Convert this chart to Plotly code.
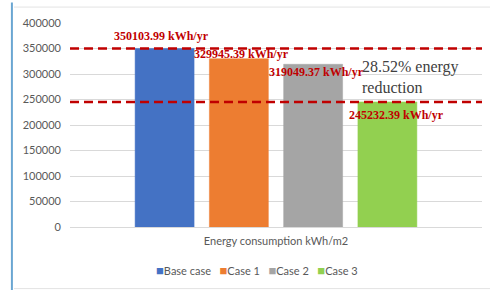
import plotly.graph_objects as go

categories = ["Energy consumption kWh/m2"]
series_names = ["Base case", "Case 1", "Case 2", "Case 3"]
series_values = [350103.99, 329945.39, 319049.37, 245232.39]
series_colors = ["#4472c4", "#ed7d31", "#a5a5a5", "#92d050"]
value_labels = ["350103.99 kWh/yr", "329945.39 kWh/yr", "319049.37 kWh/yr", "245232.39 kWh/yr"]
label_x = [0.223, 0.417, 0.598, 0.792]
label_shift = [12, 5, -8, -13]
y_ticks = [0, 50000, 100000, 150000, 200000, 250000, 300000, 350000, 400000]
reduction_text = "28.52% energy<br>reduction"

fig = go.Figure()
for name, val, col in zip(series_names, series_values, series_colors):
    fig.add_trace(go.Bar(name=name, x=categories, y=[val], marker_color=col,
                         marker_line_color=col, marker_line_width=0.5, showlegend=False))

# reference dashed lines at base case and best case values
for v in (series_values[0], series_values[-1]):
    fig.add_shape(type="line", xref="paper", x0=0, x1=1, yref="y", y0=v, y1=v,
                  line=dict(color="#c00000", width=2.5, dash="9px,5px"), layer="above")

for txt, xp, v, sh in zip(value_labels, label_x, series_values, label_shift):
    fig.add_annotation(text="<b>" + txt + "</b>", xref="paper", x=xp, yref="y", y=v, yshift=sh,
                       showarrow=False, xanchor="center", yanchor="middle",
                       font=dict(family="Liberation Serif", size=12, color="#c00000"))

fig.add_annotation(text=reduction_text, xref="paper", x=0.703, yref="paper", y=0.733,
                   showarrow=False, xanchor="left", yanchor="middle", align="left",
                   font=dict(family="Liberation Serif", size=16, color="#404040"))

# legend (Excel style small squares)
legend_html = "&nbsp;&nbsp;&nbsp;".join(
    f'<span style="color:{c};font-size:13px">■</span>{n}' for n, c in zip(series_names, series_colors))
fig.add_annotation(text=legend_html, xref="paper", x=0.454, yref="paper", y=-0.21,
                   showarrow=False, xanchor="center", yanchor="middle",
                   font=dict(family="Lato", size=11, color="#595959"))

# frame decorations
fig.add_shape(type="line", xref="paper", yref="paper", x0=-0.141, x1=-0.141, y0=1.10, y1=-0.31,
              line=dict(color="#6aa6d2", width=2))
fig.add_shape(type="line", xref="paper", yref="paper", x0=-0.136, x1=1.03, y0=1.078, y1=1.078,
              line=dict(color="#e3e3e3", width=1))
fig.add_shape(type="line", xref="paper", yref="paper", x0=-0.136, x1=1.03, y0=-0.302, y1=-0.302,
              line=dict(color="#e3e3e3", width=1))

fig.update_layout(
    width=490, height=290,
    margin=dict(l=70, r=8, t=23, b=63),
    paper_bgcolor="white", plot_bgcolor="white",
    barmode="group", bargap=0.279, bargroupgap=0.206,
    font=dict(family="Lato", size=11, color="#595959"),
)
fig.update_xaxes(type="category", showgrid=False, showline=False, ticks="",
                 tickfont=dict(size=11, color="#595959"), ticklabelstandoff=6)
fig.update_yaxes(range=[0, 400000], tickvals=y_ticks, tickformat="d",
                 showgrid=True, gridcolor="#d9d9d9", gridwidth=1,
                 zeroline=True, zerolinecolor="#d9d9d9", zerolinewidth=1,
                 showline=False, ticks="", ticklabelstandoff=8,
                 tickfont=dict(size=11, color="#595959"))

fig.write_html("out.html", config={"displayModeBar": False},
               post_script="document.body.style.margin='0';document.body.style.overflow='hidden';")
